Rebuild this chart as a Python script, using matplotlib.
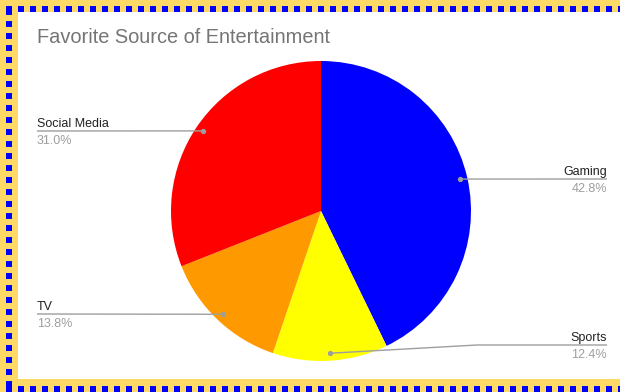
import numpy as np
import matplotlib
matplotlib.use("Agg")
import matplotlib.pyplot as plt
from matplotlib.patches import Rectangle

plt.rcParams['font.family'] = ['Liberation Sans', 'DejaVu Sans']

TITLE = "Favorite Source of Entertainment"
LABELS = ["Gaming", "Sports", "TV", "Social Media"]
SHARES = [42.8, 12.4, 13.8, 31.0]
COLORS = ["#0000ff", "#ffff00", "#ff9900", "#ff0000"]

W, H = 620, 392
CX, CY, R = 321, 211, 150          # pie centre / radius in pixels (y from top)


def Y(y):
    return H - y


fig = plt.figure(figsize=(W / 100, H / 100), dpi=100)
ax = fig.add_axes([0, 0, 1, 1])

# frame: yellow band with blue dotted squares (left, top, bottom)
yel, blu = "#ffd966", "#0000ff"
ax.add_patch(Rectangle((0, Y(H)), 18, H, color=yel, lw=0, zorder=0))
ax.add_patch(Rectangle((0, Y(12)), W, 12, color=yel, lw=0, zorder=0))
ax.add_patch(Rectangle((0, 0), W, H - 379, color=yel, lw=0, zorder=0))
for x in range(6, W, 12):
    ax.add_patch(Rectangle((x, Y(12)), 6, 6, color=blu, lw=0, zorder=1))
    ax.add_patch(Rectangle((x, Y(392)), 6, 6, color=blu, lw=0, zorder=1))
for y in range(9, H, 12):
    ax.add_patch(Rectangle((6, Y(y + 6)), 6, 6, color=blu, lw=0, zorder=1))

wedges, _ = ax.pie(SHARES, colors=COLORS, startangle=90, counterclock=False,
                   center=(CX, Y(CY)), radius=R, frame=True,
                   wedgeprops=dict(linewidth=0))
ax.set_xlim(0, W)
ax.set_ylim(0, H)
ax.set_aspect('auto')
ax.axis('off')

ax.text(37, Y(43), TITLE, fontsize=14.4, color="#757575", ha='left', va='baseline')

# label layout: (line y, text x, side, elbow x or None)
LAYOUT = {
    "Gaming": (179, 607, 'right', None),
    "Sports": (345, 607, 'right', 477),
    "TV": (314, 37, 'left', None),
    "Social Media": (131, 37, 'left', None),
}
line_c = "#9e9e9e"
for w, lab, val in zip(wedges, LABELS, SHARES):
    th = np.deg2rad((w.theta1 + w.theta2) / 2)
    dx = CX + 0.95 * R * np.cos(th)
    dy = Y(CY) + 0.95 * R * np.sin(th)
    ly, tx, side, elbow = LAYOUT[lab]
    if elbow is None:
        xs, ys = [dx, tx], [dy, Y(ly)]
    else:
        xs, ys = [dx, elbow, tx], [dy, Y(ly), Y(ly)]
    ax.plot(xs, ys, color=line_c, lw=1.0, zorder=3, solid_capstyle='butt')
    ax.plot([dx], [dy], 'o', color=line_c, ms=2.8, zorder=4)
    ax.text(tx, Y(ly - 4), lab, fontsize=9, color="#222222", ha=side, va='baseline')
    ax.text(tx, Y(ly + 13), f"{val:.1f}%", fontsize=9, color="#9e9e9e", ha=side, va='baseline')

fig.savefig("out.png", dpi=100)
